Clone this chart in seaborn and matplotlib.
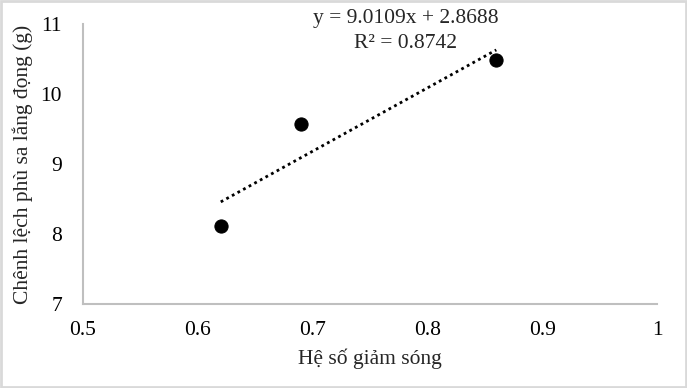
import matplotlib
matplotlib.use("Agg")
import matplotlib.pyplot as plt
import seaborn as sns
import pandas as pd
from matplotlib.patches import Rectangle

he_so = [0.62, 0.69, 0.86]
chenh_lech = [8.12, 9.57, 10.49]
x_ticks = [0.5, 0.6, 0.7, 0.8, 0.9, 1.0]
x_tick_labels = ["0.5", "0.6", "0.7", "0.8", "0.9", "1"]
y_ticks = [7, 8, 9, 10, 11]
equation = "y = 9.0109x + 2.8688"
r2_text = "R² = 0.8742"

df = pd.DataFrame({"x": he_so, "y": chenh_lech})

sns.set_theme(style="white")
plt.rcParams["font.family"] = ["Liberation Serif", "DejaVu Serif"]

FS = 15.5
fig = plt.figure(figsize=(6.87, 3.88), dpi=100)
ax = fig.add_axes([83/687, 84/388, (657-83)/687, (304-24)/388])

sns.regplot(data=df, x="x", y="y", ax=ax, scatter=False, ci=None, truncate=True,
            line_kws=dict(color="black", linestyle=(0, (1, 1.3)), linewidth=2))
sns.scatterplot(data=df, x="x", y="y", ax=ax, color="black", s=90, edgecolor="black", zorder=5)

ax.set_xlim(0.5, 1.0)
ax.set_ylim(7, 11)
ax.set_xticks(x_ticks)
ax.set_xticklabels(x_tick_labels)
ax.set_yticks(y_ticks)
ax.tick_params(axis="both", length=0, labelsize=FS, colors="#000000")
ax.tick_params(axis="x", pad=12)
ax.tick_params(axis="y", pad=15)
for s in ["top", "right"]:
    ax.spines[s].set_visible(False)
for s in ["left", "bottom"]:
    ax.spines[s].set_color("#bfbfbf")
    ax.spines[s].set_linewidth(1.5)

ax.set_xlabel("Hệ số giảm sóng", fontsize=FS)
ax.set_ylabel("Chênh lệch phù sa lắng đọng (g)", fontsize=FS)
ax.xaxis.label.set_va("center")
ax.yaxis.label.set_va("center")
ax.xaxis.set_label_coords((370 - 83) / 574, (304 - 359) / 280)
ax.yaxis.set_label_coords((23 - 83) / 574, (304 - 164) / 280)

fig.text(406/687, 1 - 18/388, equation, ha="center", va="center", fontsize=FS)
fig.text(406/687, 1 - 44/388, r2_text, ha="center", va="center", fontsize=FS)

fig.patches.append(Rectangle((0.002, 0.002), 0.996, 0.996, transform=fig.transFigure,
                             fill=False, edgecolor="#d9d9d9", linewidth=2))

fig.savefig("out.png", dpi=100)
